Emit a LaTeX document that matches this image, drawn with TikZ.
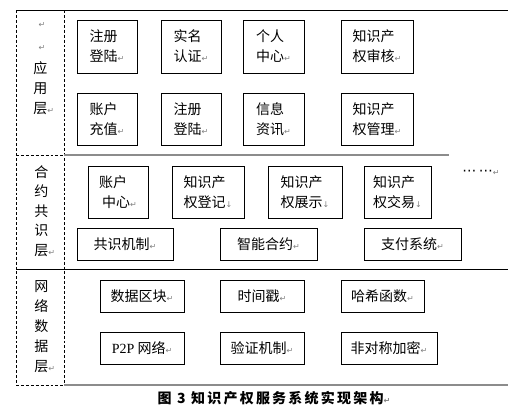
\documentclass[tikz,border=0pt]{standalone}
\usepackage{fontspec}
\setmainfont{Liberation Serif}
\newfontfamily\cjk{Noto Sans CJK SC}
\newfontfamily\cjkcap[LetterSpace=16]{Noto Sans CJK SC}
\newfontfamily\symf{DejaVu Sans}
\newcommand{\rt}{{\color{gray}\symf\fontsize{6}{6}\selectfont ↵}}
\newcommand{\dn}{{\color{gray}\symf\fontsize{6}{6}\selectfont ↓}}
\begin{document}
\begin{tikzpicture}[x=0.75pt,y=-0.75pt,
  every node/.style={font=\cjk\fontsize{10.5}{15}\selectfont, inner sep=0pt},
  box/.style 2 args={draw, line width=0.75pt, align=left,
    minimum width=#1*0.75pt, minimum height=#2*0.75pt},
  lab/.style={align=left, anchor=west, font=\cjk\fontsize{10.5}{#1}\selectfont},
  dashline/.style={line width=0.75pt, dash pattern=on 2.2pt off 1.5pt},
  solidline/.style={line width=0.75pt},
  grayline/.style={line width=1.6pt, draw=black!45},
  capt/.style={font=\cjkcap\bfseries\fontsize{10.5}{12}\selectfont}]
\useasboundingbox (0,0) rectangle (517,414);
\fill[white] (0,0) rectangle (517,414);
% frame lines
\draw[solidline] (16,10) -- (508,10);
\draw[dashline] (16,10) -- (16,385);
\draw[dashline] (64,10) -- (64,385);
\draw[dashline] (16,155) -- (64,155);
\draw[grayline] (64,155) -- (449,155);
\draw[solidline] (16,269) -- (508,269);
\draw[dashline] (16,385) -- (64,385);
\draw[grayline] (64,385) -- (508,385);
% layer labels
\node (m1) at (42,25) {\rt};
\node (m2) at (42,48) {\rt};
\node[lab=15pt] (appl) at (33,88) {应\\用\\层\rt};
\node[lab=14.6pt] (conl) at (34,211) {合\\约\\共\\识\\层\rt};
\node[lab=15pt] (netl) at (34,327) {网\\络\\数\\据\\层\rt};
% application layer
\node[box={60}{53}] (a1) at (107,46.5) {注册\\登陆\rt};
\node[box={60}{53}] (a2) at (191,46.5) {实名\\认证\rt};
\node[box={61}{53}] (a3) at (273.5,46.5) {个人\\中心\rt};
\node[box={72}{53}] (a4) at (377,46.5) {知识产\\权审核\rt};
\node[box={60}{52}] (a5) at (107,119) {账户\\充值\rt};
\node[box={60}{52}] (a6) at (191,119) {注册\\登陆\rt};
\node[box={61}{52}] (a7) at (273.5,119) {信息\\资讯\rt};
\node[box={72}{52}] (a8) at (377,119) {知识产\\权管理\rt};
% contract consensus layer
\node[box={60}{52}] (c1) at (118,192) {账户\\\ 中心\rt};
\node[box={72}{52}] (c2) at (208,192) {知识产\\权登记\dn};
\node[box={74}{52}] (c3) at (305,192) {知识产\\权展示\dn};
\node[box={67}{52}] (c4) at (397.5,192) {知识产\\权交易\dn};
\node (dots) at (481,173) {\symf\fontsize{10.5}{12}\selectfont ⋯\kern2pt⋯\rt};
\node[box={96}{32}] (c5) at (125,244) {共识机制\rt};
\node[box={97}{32}] (c6) at (268.5,244) {智能合约\rt};
\node[box={97}{32}] (c7) at (412.5,244) {支付系统\rt};
% network data layer
\node[box={84}{32}] (n1) at (142,296) {数据区块\rt};
\node[box={84}{32}] (n2) at (262,296) {时间戳\rt};
\node[box={83}{32}] (n3) at (382.5,296) {哈希函数\rt};
\node[box={84}{32}] (n4) at (142,348.5) {{\rmfamily P2P} 网络\rt};
\node[box={84}{32}] (n5) at (262,348.5) {验证机制\rt};
\node[box={96}{32}] (n6) at (389,348.5) {非对称加密\rt};
% caption
\node[capt] (cap) at (274,398) {图 3\ 知识产权服务系统实现架构\rt};
\end{tikzpicture}
\end{document}
